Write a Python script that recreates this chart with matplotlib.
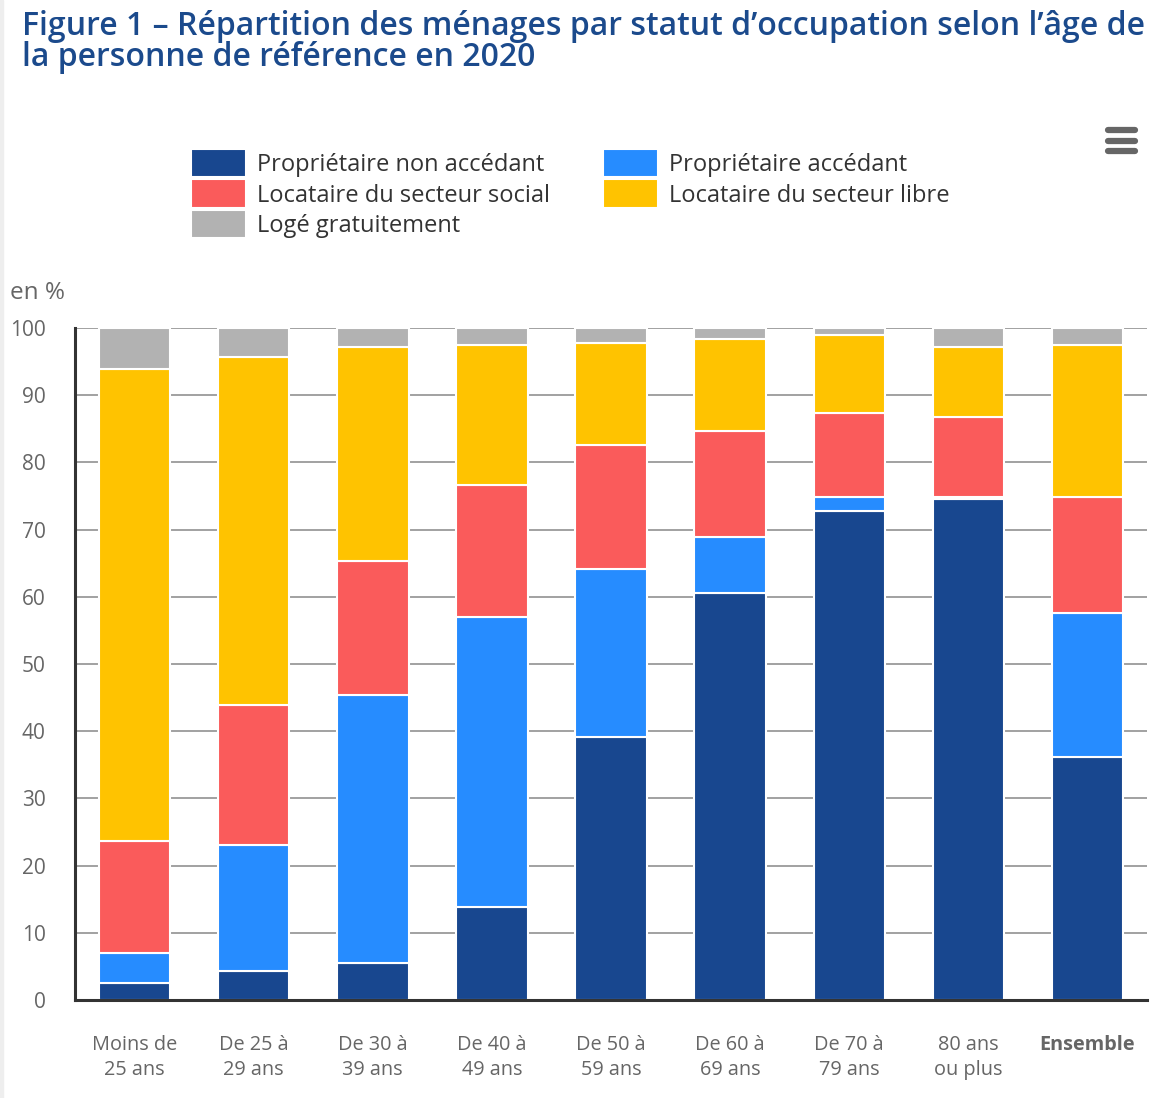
import matplotlib.pyplot as plt
import numpy as np
from matplotlib.patches import Rectangle

plt.rcParams['font.family'] = ['Open Sans', 'DejaVu Sans']

# Data (in %)
categories = ["Moins de\n25 ans", "De 25 à\n29 ans", "De 30 à\n39 ans", "De 40 à\n49 ans",
              "De 50 à\n59 ans", "De 60 à\n69 ans", "De 70 à\n79 ans", "80 ans\nou plus", "Ensemble"]
proprio_non_acc = [2.5, 4.3, 5.5, 13.8, 39.1, 60.6, 72.8, 74.6, 36.2]
proprio_acc = [4.5, 18.8, 39.9, 43.2, 25.0, 8.3, 2.1, 0.3, 21.4]
loc_social = [16.7, 20.8, 19.9, 19.6, 18.5, 15.8, 12.5, 11.9, 17.3]
loc_libre = [70.2, 51.8, 31.9, 20.9, 15.2, 13.7, 11.6, 10.4, 22.6]
loge_grat = [6.1, 4.3, 2.8, 2.5, 2.2, 1.6, 1.0, 2.8, 2.5]

series = [
    ("Propriétaire non accédant", proprio_non_acc, "#18478f"),
    ("Propriétaire accédant", proprio_acc, "#268cff"),
    ("Locataire du secteur social", loc_social, "#fa5b5b"),
    ("Locataire du secteur libre", loc_libre, "#ffc300"),
    ("Logé gratuitement", loge_grat, "#b2b2b2"),
]

fig = plt.figure(figsize=(11.61, 10.98), dpi=100)
ax = fig.add_axes([0.0646, 0.0893, 0.9234, 0.6120])

x = np.arange(len(categories))
bottom = np.zeros(len(categories))
handles = {}
for name, vals, color in series:
    vals = np.array(vals)
    b = ax.bar(x, vals, width=0.6, bottom=bottom, color=color,
               edgecolor="white", linewidth=1.5, zorder=3, label=name)
    handles[name] = b
    bottom += vals

ax.set_xlim(-0.5, len(categories) - 0.5)
ax.set_ylim(0, 100)
ax.set_yticks(np.arange(0, 101, 10))
ax.yaxis.grid(True, color="#888888", linewidth=1.1, zorder=0)
ax.set_axisbelow(True)

for s in ["top", "right"]:
    ax.spines[s].set_visible(False)
for s in ["left", "bottom"]:
    ax.spines[s].set_color("#333333")
    ax.spines[s].set_linewidth(2.2)
    ax.spines[s].set_zorder(4)

ax.tick_params(axis="y", length=0, pad=21, labelsize=15, labelcolor="#666666")
ax.tick_params(axis="x", length=0, pad=25, labelsize=14.3, labelcolor="#666666")
ax.set_xticks(x)
ax.set_xticklabels(categories, linespacing=1.34)
ax.get_xticklabels()[-1].set_fontweight("bold")

fig.text(0.009, 0.733, "en %", fontsize=17.5, color="#666666", va="center")

# Title
fig.text(0.019, 0.991, "Figure 1 – Répartition des ménages par statut d’occupation selon l’âge de\n"
         "la personne de référence en 2020", fontsize=23, fontweight="semibold",
         color="#1b4a8c", va="top", ha="left", linespacing=0.93)

# Legend
order = ["Propriétaire non accédant", "Locataire du secteur social", "Logé gratuitement",
         "Propriétaire accédant", "Locataire du secteur libre"]
fig.legend([handles[n] for n in order], order, ncol=2, frameon=False,
           loc="upper left", bbox_to_anchor=(0.1645, 0.8612), fontsize=17,
           handlelength=2.33, handleheight=1.0, handletextpad=0.45,
           labelspacing=0.25, columnspacing=2.27, labelcolor="#333333",
           borderpad=0, borderaxespad=0)
for h in fig.legends[0].legend_handles:
    h.set_height(h.get_height() * 1.33)
    h.set_y(h.get_y() - h.get_height() * 0.125)

# Menu icon (hamburger)
for yy in [0.8815, 0.8720, 0.8625]:
    fig.add_artist(plt.Line2D([0.9545, 0.9775], [yy, yy], color="#666666",
                              linewidth=4.5, solid_capstyle="round"))

# Light frame edges
fig.add_artist(Rectangle((0, 0), 0.003, 1, transform=fig.transFigure, color="#eeeeee"))

fig.savefig("out.png", dpi=100)
